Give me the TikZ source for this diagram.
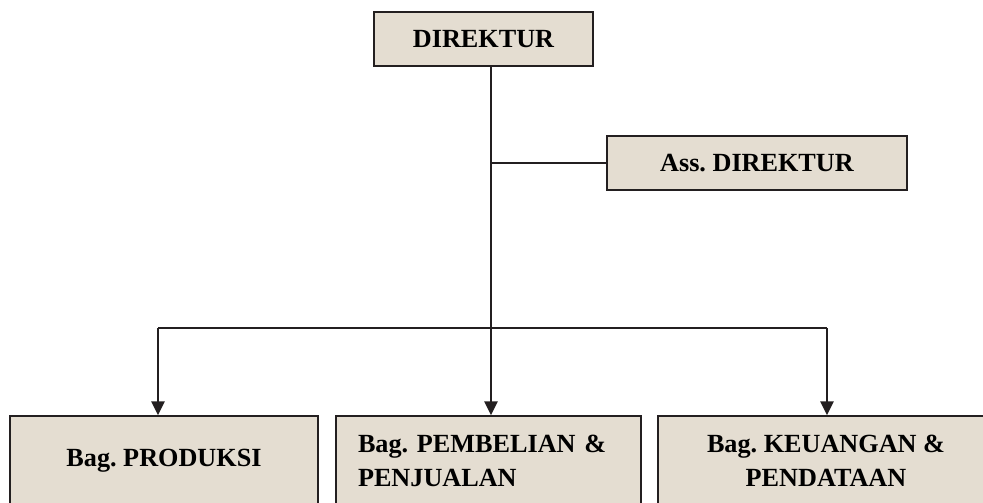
\documentclass[tikz,border=0pt]{standalone}
\usepackage{fontspec}
\setmainfont{Liberation Serif}
\usetikzlibrary{arrows.meta}
\definecolor{boxfill}{RGB}{228,221,209}
\definecolor{lineclr}{RGB}{35,31,32}
\begin{document}
\begin{tikzpicture}[x=1pt, y=-1pt,
                    box/.style={draw=lineclr, line width=1.3pt, fill=boxfill, minimum height=54pt, inner sep=0pt,
                                font=\fontsize{26.2}{34}\selectfont\bfseries\frenchspacing},
                    low/.style={box, minimum height=90pt},
                    link/.style={draw=lineclr, line width=2.4pt},
                    arrow/.style={link, -{Triangle[length=14pt,width=13pt]}}]
  \useasboundingbox (0,0) rectangle (983,503);
  \clip (0,0) rectangle (983,503);
  \node(dir)[box, minimum width=219pt] at (483.5,39) {DIREKTUR};
  \node(ass)[box, minimum width=300pt] at (757,163) {Ass. DIREKTUR};
  \node(prod)[low, minimum width=308pt] at (164,461) {Bag. PRODUKSI};
  \node(beli)[low, minimum width=305pt, text width=261pt, align=left] at (488.5,461) {Bag. PEMBELIAN \&\\PENJUALAN};
  \node(uang)[low, minimum width=336pt, align=center] at (826,461) {Bag. KEUANGAN \&\\PENDATAAN};
  \coordinate (trunk) at (491,163);
  \coordinate (bar) at (491,328);
  \coordinate (bar_l) at (158,328);
  \coordinate (bar_r) at (827,328);
  \draw[link] (dir.south -| trunk) -- (bar);
  \draw[link, line width=1.6pt] (trunk) -- (ass.west);
  \draw[link] (bar_l) -- (bar_r);
  \draw[arrow] (bar) -- (beli.north -| bar);
  \draw[arrow] (bar_l) -- (prod.north -| bar_l);
  \draw[arrow] (bar_r) -- (uang.north -| bar_r);
\end{tikzpicture}
\end{document}
